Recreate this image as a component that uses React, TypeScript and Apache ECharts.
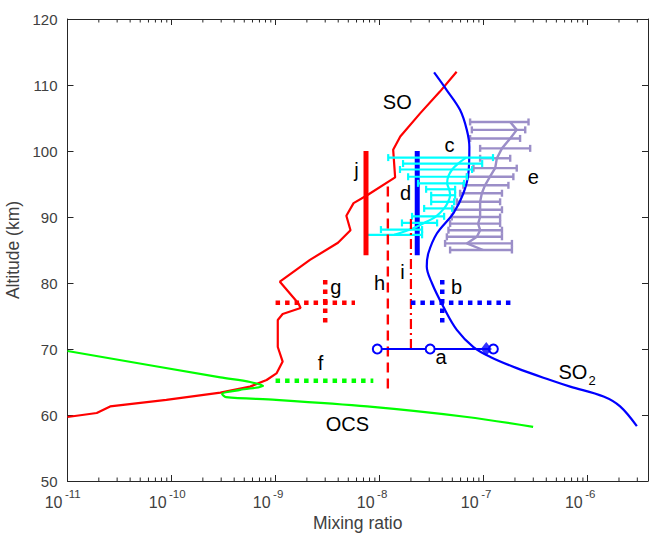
import { useEffect, useRef } from 'react';
import * as echarts from 'echarts';

// ---------- data (x = mixing ratio, y = altitude km) ----------
const xTickValues = [1e-11, 1e-10, 1e-9, 1e-8, 1e-7, 1e-6];
const xTickExpLabels = ['-11', '-10', '-9', '-8', '-7', '-6'];
const yTicks = [50, 60, 70, 80, 90, 100, 110, 120];
const X_MIN = 1e-11;
const X_MAX = 3.8e-6;

const soX = [1.0e-11, 1.91e-11, 2.57e-11, 8.91e-11, 2.95e-10, 5.69e-10, 8.2e-10, 1.02e-9, 1.17e-9, 1.05e-9, 1.05e-9, 1.17e-9, 1.74e-9, 1.66e-9, 1.10e-9, 2.14e-9, 3.98e-9, 5.25e-9, 4.79e-9, 5.62e-9, 7.59e-9, 1.41e-8, 1.35e-8, 1.58e-8, 2.45e-8, 3.80e-8, 5.50e-8];
const soAlt = [59.7, 60.3, 61.3, 62.3, 63.4, 64.3, 65.3, 66.3, 68.1, 70.3, 74.4, 75.3, 76.2, 76.9, 80.2, 83.5, 86.1, 88.0, 90.2, 92.1, 93.3, 96.0, 100.2, 102.2, 105.7, 109.0, 112.0];

const ocsX = [1.0e-11, 2.95e-10, 5.69e-10, 7.59e-10, 4.56e-10, 3.06e-10, 3.34e-10, 1.01e-9, 7.59e-9, 6.93e-8, 2.99e-7];
const ocsAlt = [69.7, 65.7, 65.0, 64.4, 63.8, 63.2, 62.7, 62.3, 61.3, 59.7, 58.2];

const so2X = [3.34e-8, 4.43e-8, 5.94e-8, 6.89e-8, 7.29e-8, 7.14e-8, 6.39e-8, 5.13e-8, 3.55e-8, 2.94e-8, 2.84e-8, 3.18e-8, 4.10e-8, 5.52e-8, 7.98e-8, 1.16e-7, 2.08e-7, 4.36e-7, 6.79e-7, 1.42e-6, 2.05e-6, 2.97e-6];
const so2Alt = [111.9, 109.2, 106.2, 103.2, 100.6, 96.6, 93.6, 90.6, 87.5, 84.5, 82.5, 80.0, 76.4, 72.9, 70.3, 68.8, 67.1, 65.3, 64.3, 62.8, 61.3, 58.3];

// c: cyan error bars
const cAlt = [99.0, 98.1, 97.2, 96.1, 95.1, 94.2, 93.3, 92.3, 91.3, 90.1, 89.1, 88.1, 87.3];
const cLow = [1.21e-8, 1.68e-8, 1.57e-8, 1.88e-8, 2.34e-8, 2.80e-8, 3.13e-8, 3.13e-8, 2.68e-8, 2.05e-8, 1.64e-8, 1.03e-8, 7.41e-9];
const cMid = [6.79e-8, 5.68e-8, 4.98e-8, 4.56e-8, 4.46e-8, 4.66e-8, 4.76e-8, 4.56e-8, 4.17e-8, 3.49e-8, 2.68e-8, 1.96e-8, 1.38e-8];
const cHigh = [1.23e-7, 9.68e-8, 7.74e-8, 6.93e-8, 6.49e-8, 5.32e-8, 5.32e-8, 5.20e-8, 4.98e-8, 4.17e-8, 3.57e-8, 2.56e-8, 2.56e-8];

// e: purple error bars
const eAlt = [104.4, 103.2, 101.9, 100.4, 98.9, 97.4, 96.1, 94.8, 93.6, 92.3, 91.1, 90.0, 89.0, 88.0, 87.0, 86.0, 85.0];
const eLow = [7.41e-8, 7.70e-8, 7.41e-8, 9.25e-8, 9.25e-8, 7.98e-8, 6.89e-8, 6.39e-8, 5.94e-8, 5.52e-8, 5.13e-8, 4.94e-8, 4.76e-8, 4.59e-8, 4.43e-8, 4.26e-8, 4.76e-8];
const eMid = [1.80e-7, 2.08e-7, 1.80e-7, 1.50e-7, 1.34e-7, 1.29e-7, 1.15e-7, 1.03e-7, 9.61e-8, 9.25e-8, 9.25e-8, 9.25e-8, 8.85e-8, 9.25e-8, 8.61e-8, 6.89e-8, 9.89e-8];
const eHigh = [2.70e-7, 2.51e-7, 2.24e-7, 2.80e-7, 1.80e-7, 2.08e-7, 1.93e-7, 1.73e-7, 1.50e-7, 1.44e-7, 1.50e-7, 1.44e-7, 1.44e-7, 1.50e-7, 1.50e-7, 1.87e-7, 1.87e-7];

// a: blue line with circles + diamond
const aAlt = 70;
const aX = [9.5e-9, 3.06e-8, 1.24e-7];
const aDiamondX = 1.06e-7;
// b: blue dotted cross
const bHX = [2.0e-8, 1.9e-7];
const bHAlt = 77;
const bVX = 4.0e-8;
const bVAlt = [74, 81];
// g: red dotted cross
const gHX = [1.0e-9, 5.8e-9];
const gHAlt = 77;
const gVX = 3.0e-9;
const gVAlt = [74, 81];
// f: green dotted
const fX = [1.0e-9, 8.7e-9];
const fAlt = 65.2;
// h: red dashed vertical
const hX = 1.2e-8;
const hAlt = [64, 95.3];
// i: red dash-dot vertical
const iX = 2.0e-8;
const iAlt = [70, 90];
// j: red thick vertical
const jX = 7.4e-9;
const jAlt = [84.2, 100];
// d: blue thick vertical
const dX = 2.3e-8;
const dAlt = [84.2, 100];

// text labels
const labelNames = ['SO', 'SO2', 'OCS', 'a', 'b', 'c', 'd', 'e', 'f', 'g', 'h', 'i', 'j'];
const labelX = [1.48e-8, 8.9e-7, 4.9e-9, 3.9e-8, 5.5e-8, 4.7e-8, 1.78e-8, 3.0e-7, 2.7e-9, 3.8e-9, 1.0e-8, 1.66e-8, 6.0e-9];
const labelAlt = [107.4, 66.5, 58.6, 68.8, 79.4, 100.9, 93.6, 96.1, 67.9, 79.4, 80.0, 81.7, 97.1];

const FONT = '"Liberation Sans", Arial, Helvetica, sans-serif';
const AXIS_COLOR = '#262626';
const TEXT_COLOR = '#404040';

const zip = (xs: number[], ys: number[]) => xs.map((x, i) => [x, ys[i]]);

function buildMinorTicks(): number[] {
  const out: number[] = [];
  for (let e = -11; e <= -6; e++) {
    for (let k = 2; k <= 9; k++) {
      const v = k * Math.pow(10, e);
      if (v < X_MAX) out.push(v);
    }
  }
  return out;
}

function errorBarSeries(name: string, alt: number[], lo: number[], hi: number[], color: string, width: number, z: number) {
  return {
    name,
    type: 'custom',
    z,
    silent: true,
    encode: { x: 0, y: 1 },
    data: alt.map((a, i) => [lo[i], a, hi[i]]),
    renderItem: (params: any, api: any) => {
      const a = api.value(1);
      const p1 = api.coord([api.value(0), a]);
      const p2 = api.coord([api.value(2), a]);
      const cap = 3.5;
      const style = { stroke: color, lineWidth: width };
      return {
        type: 'group',
        children: [
          { type: 'line', shape: { x1: p1[0], y1: p1[1], x2: p2[0], y2: p2[1] }, style },
          { type: 'line', shape: { x1: p1[0], y1: p1[1] - cap, x2: p1[0], y2: p1[1] + cap }, style },
          { type: 'line', shape: { x1: p2[0], y1: p2[1] - cap, x2: p2[0], y2: p2[1] + cap }, style },
        ],
      };
    },
  };
}

function lineSeries(data: number[][], color: string, width: number, type: any, z: number, extra: any = {}) {
  return {
    type: 'line',
    data,
    z,
    silent: true,
    symbol: 'none',
    lineStyle: { color, width, type, cap: 'butt' },
    ...extra,
  };
}

export default function App() {
  const ref = useRef<HTMLDivElement>(null);

  useEffect(() => {
    if (!ref.current) return;
    const chart = echarts.init(ref.current, null, { renderer: 'svg' });
    const minorTicks = buildMinorTicks();

    const option: any = {
      animation: false,
      backgroundColor: '#ffffff',
      grid: { left: 67.5, right: 1, top: 19, bottom: 53, containLabel: false, outerBoundsMode: 'none' },
      xAxis: [
        {
          type: 'log',
          logBase: 10,
          min: X_MIN,
          max: X_MAX,
          position: 'bottom',
          name: 'Mixing ratio',
          nameLocation: 'middle',
          nameGap: 33,
          nameTextStyle: { color: TEXT_COLOR, fontSize: 17.5, fontFamily: FONT },
          axisLine: { show: true, lineStyle: { color: AXIS_COLOR, width: 1 } },
          axisTick: { show: true, inside: true, length: 6, lineStyle: { color: AXIS_COLOR } },
          splitLine: { show: false },
          minorTick: { show: false },
          axisLabel: { show: false },
        },
        {
          type: 'log',
          logBase: 10,
          min: X_MIN,
          max: X_MAX,
          position: 'top',
          axisLine: { show: true, lineStyle: { color: AXIS_COLOR, width: 1 } },
          axisTick: { show: true, inside: true, length: 6, lineStyle: { color: AXIS_COLOR } },
          axisLabel: { show: false },
          splitLine: { show: false },
        },
      ],
      yAxis: [
        {
          type: 'value',
          min: yTicks[0],
          max: yTicks[yTicks.length - 1],
          interval: 10,
          position: 'left',
          name: 'Altitude (km)',
          nameLocation: 'middle',
          nameGap: 36,
          nameTextStyle: { color: TEXT_COLOR, fontSize: 17.5, fontFamily: FONT },
          axisLine: { show: true, lineStyle: { color: AXIS_COLOR, width: 1 } },
          axisTick: { show: true, inside: true, length: 6, lineStyle: { color: AXIS_COLOR } },
          splitLine: { show: false },
          axisLabel: { show: true, margin: 10, color: TEXT_COLOR, fontSize: 15, fontFamily: FONT },
        },
        {
          type: 'value',
          min: yTicks[0],
          max: yTicks[yTicks.length - 1],
          interval: 10,
          position: 'right',
          axisLine: { show: true, lineStyle: { color: AXIS_COLOR, width: 1 } },
          axisTick: { show: true, inside: true, length: 6, lineStyle: { color: AXIS_COLOR } },
          splitLine: { show: false },
          axisLabel: { show: false },
        },
      ],
      series: [
        // minor ticks on log axis (bottom + top)
        {
          type: 'custom',
          silent: true,
          z: 1,
          encode: { x: 0, y: 1 },
          data: minorTicks.map((v) => [v, yTicks[0]]),
          renderItem: (params: any, api: any) => {
            const v = api.value(0);
            const pb = api.coord([v, yTicks[0]]);
            const pt = api.coord([v, yTicks[yTicks.length - 1]]);
            const style = { stroke: AXIS_COLOR, lineWidth: 1 };
            return {
              type: 'group',
              children: [
                { type: 'line', shape: { x1: pb[0], y1: pb[1], x2: pb[0], y2: pb[1] - 3.5 }, style },
                { type: 'line', shape: { x1: pt[0], y1: pt[1], x2: pt[0], y2: pt[1] + 3.5 }, style },
              ],
            };
          },
        },
        // x tick labels: 10 with superscript exponent
        {
          type: 'custom',
          silent: true,
          z: 1,
          encode: { x: 0, y: 1 },
          data: xTickValues.map((v) => [v, yTicks[0]]),
          renderItem: (params: any, api: any) => {
            const p = api.coord([api.value(0), yTicks[0]]);
            const exp = xTickExpLabels[params.dataIndex];
            return {
              type: 'group',
              children: [
                {
                  type: 'text',
                  x: p[0] - 5,
                  y: p[1] + 21.5,
                  style: { text: '10', fontSize: 16, fontFamily: FONT, fill: TEXT_COLOR, align: 'right', verticalAlign: 'middle' },
                },
                {
                  type: 'text',
                  x: p[0] - 2.5,
                  y: p[1] + 13,
                  style: { text: exp, fontSize: 11.5, fontFamily: FONT, fill: TEXT_COLOR, align: 'left', verticalAlign: 'middle' },
                },
              ],
            };
          },
        },
        lineSeries(zip(soX, soAlt), '#ff0000', 2.2, 'solid', 3),
        lineSeries(zip(ocsX, ocsAlt), '#00ff00', 2.2, 'solid', 3, { smooth: 0.3 }),
        errorBarSeries('e', eAlt, eLow, eHigh, '#9b8ec8', 2.4, 3),
        lineSeries(zip(eMid, eAlt), '#9b8ec8', 2.4, 'solid', 3),
        lineSeries(zip(so2X, so2Alt), '#0000ff', 2.2, 'solid', 4, { smooth: 0.35 }),
        // d: blue thick vertical
        lineSeries([[dX, dAlt[0]], [dX, dAlt[1]]], '#0000ff', 5, 'solid', 4),
        errorBarSeries('c', cAlt, cLow, cHigh, '#00ffff', 2.2, 5),
        lineSeries(zip(cMid, cAlt), '#00ffff', 2.2, 'solid', 5, { smooth: 0.3 }),
        // j: red thick vertical
        lineSeries([[jX, jAlt[0]], [jX, jAlt[1]]], '#ff0000', 5, 'solid', 5),
        // h: red dashed
        lineSeries([[hX, hAlt[0]], [hX, hAlt[1]]], '#ff0000', 2.4, [10, 6], 5),
        // i: red dash-dot
        lineSeries([[iX, iAlt[0]], [iX, iAlt[1]]], '#ff0000', 2.2, [10, 4, 2, 4], 5),
        // g: red dotted cross
        lineSeries([[gHX[0], gHAlt], [gHX[1], gHAlt]], '#ff0000', 4.5, [4.5, 5], 5),
        lineSeries([[gVX, gVAlt[0]], [gVX, gVAlt[1]]], '#ff0000', 4.5, [4.5, 5], 5),
        // b: blue dotted cross
        lineSeries([[bHX[0], bHAlt], [bHX[1], bHAlt]], '#0000ff', 4.5, [4.5, 5], 5),
        lineSeries([[bVX, bVAlt[0]], [bVX, bVAlt[1]]], '#0000ff', 4.5, [4.5, 5], 5),
        // f: green dotted
        lineSeries([[fX[0], fAlt], [fX[1], fAlt]], '#00ff00', 4.5, [4.5, 5], 5),
        // a: blue line with circles
        {
          type: 'line',
          z: 6,
          silent: true,
          data: aX.map((x) => [x, aAlt]),
          symbol: 'emptyCircle',
          symbolSize: 9,
          showAllSymbol: true,
          lineStyle: { color: '#0000ff', width: 2 },
          itemStyle: { color: '#0000ff', borderColor: '#0000ff', borderWidth: 2 },
        },
        {
          type: 'scatter',
          z: 6,
          silent: true,
          data: [[aDiamondX, aAlt]],
          symbol: 'diamond',
          symbolSize: [11, 14],
          itemStyle: { color: '#0000ff' },
        },
        // text labels
        {
          type: 'custom',
          z: 10,
          silent: true,
          encode: { x: 0, y: 1 },
          data: zip(labelX, labelAlt),
          renderItem: (params: any, api: any) => {
            const p = api.coord([api.value(0), api.value(1)]);
            const name = labelNames[params.dataIndex];
            if (name === 'SO2') {
              return {
                type: 'group',
                children: [
                  {
                    type: 'text',
                    x: p[0] + 5,
                    y: p[1],
                    style: { text: 'SO', fontSize: 20, fontFamily: FONT, fill: '#000', align: 'right', verticalAlign: 'middle' },
                  },
                  {
                    type: 'text',
                    x: p[0] + 6,
                    y: p[1] + 8,
                    style: { text: '2', fontSize: 13, fontFamily: FONT, fill: '#000', align: 'left', verticalAlign: 'middle' },
                  },
                ],
              };
            }
            return {
              type: 'text',
              x: p[0],
              y: p[1],
              style: { text: name, fontSize: 20, fontFamily: FONT, fill: '#000000', align: 'center', verticalAlign: 'middle' },
            };
          },
        },
      ],
    };

    chart.setOption(option);
    return () => chart.dispose();
  }, []);

  return <div ref={ref} style={{ position: 'fixed', left: 0, top: 0, width: 649, height: 534 }} />;
}
